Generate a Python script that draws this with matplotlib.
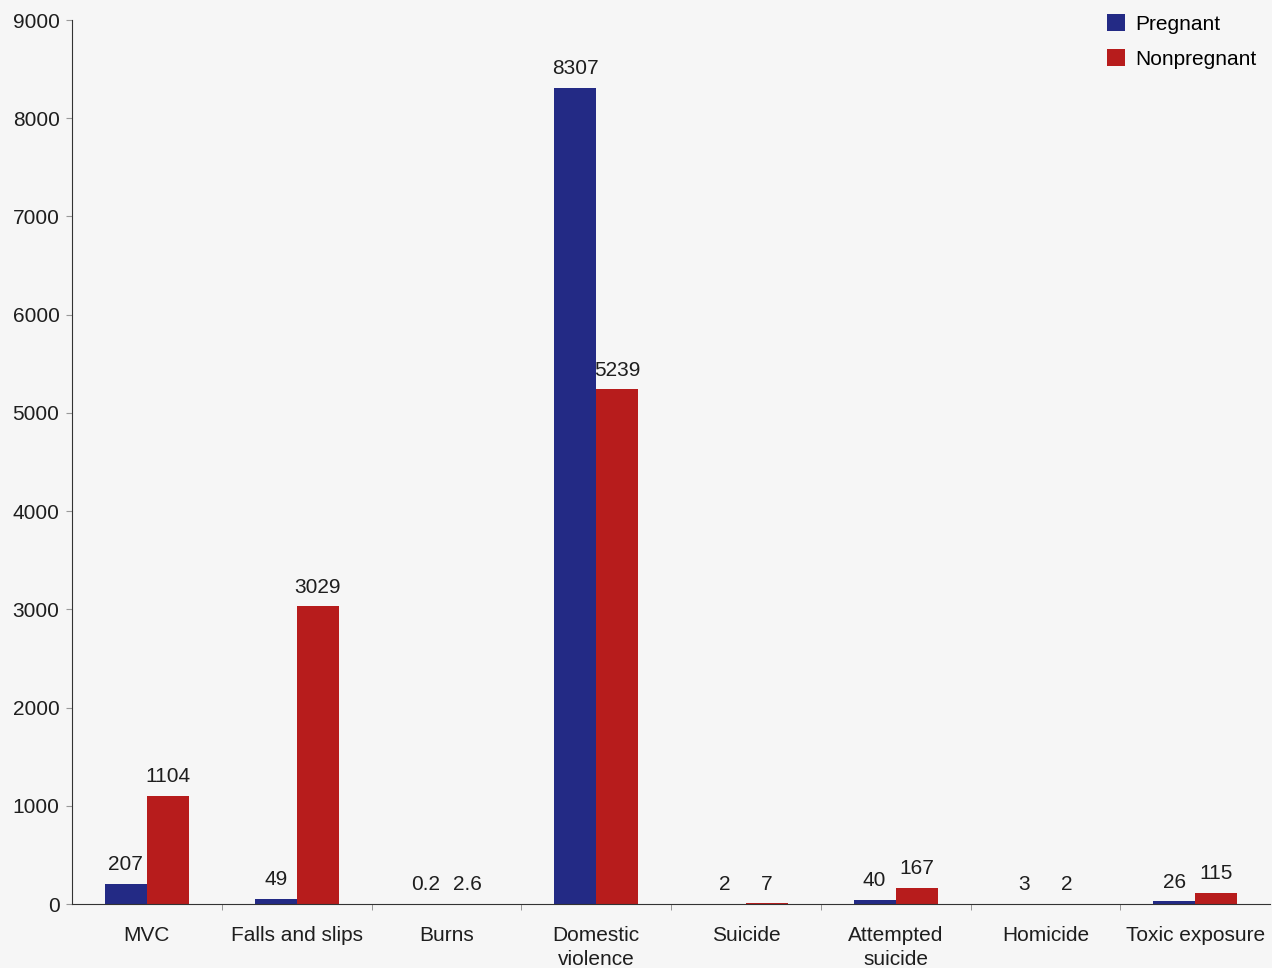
import matplotlib
matplotlib.use("Agg")
import matplotlib.pyplot as plt
import numpy as np
from matplotlib.patches import Patch

plt.rcParams['font.family'] = ['Liberation Sans', 'DejaVu Sans']

categories = ["MVC", "Falls and slips", "Burns", "Domestic\nviolence", "Suicide",
              "Attempted\nsuicide", "Homicide", "Toxic exposure"]
pregnant = [207, 49, 0.2, 8307, 2, 40, 3, 26]
nonpregnant = [1104, 3029, 2.6, 5239, 7, 167, 2, 115]
pregnant_labels = ["207", "49", "0.2", "8307", "2", "40", "3", "26"]
nonpregnant_labels = ["1104", "3029", "2.6", "5239", "7", "167", "2", "115"]
yticks = [0, 1000, 2000, 3000, 4000, 5000, 6000, 7000, 8000, 9000]

blue = '#232a85'
red = '#b71c1c'
bg = '#f6f6f6'
txt = '#1e1e1e'
fs = 15

fig = plt.figure(figsize=(12.72, 9.68), dpi=100, facecolor=bg)
ax = fig.add_axes([72/1272, 64/968, 1198/1272, 884/968], facecolor=bg)

x = np.arange(len(categories))
w = 0.28
b1 = ax.bar(x - w/2, pregnant, w, color=blue)
b2 = ax.bar(x + w/2, nonpregnant, w, color=red)

for rect, lab in zip(b1, pregnant_labels):
    ax.annotate(lab, (rect.get_x() + rect.get_width()/2, rect.get_height()),
                xytext=(0, 7), textcoords='offset points', ha='center', va='bottom',
                fontsize=fs, color=txt)
for rect, lab in zip(b2, nonpregnant_labels):
    ax.annotate(lab, (rect.get_x() + rect.get_width()/2, rect.get_height()),
                xytext=(0, 7), textcoords='offset points', ha='center', va='bottom',
                fontsize=fs, color=txt)

ax.set_xlim(-0.5, 7.5)
ax.set_ylim(0, 9000)
ax.set_yticks(yticks)
ax.set_yticklabels([str(t) for t in yticks], fontsize=fs, color=txt)
ax.set_xticks(x)
ax.set_xticklabels(categories, fontsize=fs, color=txt, linespacing=1.3)
ax.tick_params(axis='x', length=0, pad=16)
ax.set_xticks(np.arange(0.5, 7.5, 1), minor=True)
ax.tick_params(axis='x', which='minor', length=4, color='#888888', direction='out')
ax.tick_params(axis='y', length=4, color='#999999', pad=5)

for s in ['top', 'right']:
    ax.spines[s].set_visible(False)
ax.spines['left'].set_color('#333333')
ax.spines['bottom'].set_color('#333333')

handles = [Patch(facecolor=blue, label='Pregnant'), Patch(facecolor=red, label='Nonpregnant')]
ax.legend(handles=handles, loc='upper right', bbox_to_anchor=(1.004, 1.028), frameon=False,
          fontsize=fs, handlelength=0.87, handleheight=0.87, handletextpad=0.45,
          labelspacing=0.75)

fig.savefig('out.png', dpi=100, facecolor=bg)
